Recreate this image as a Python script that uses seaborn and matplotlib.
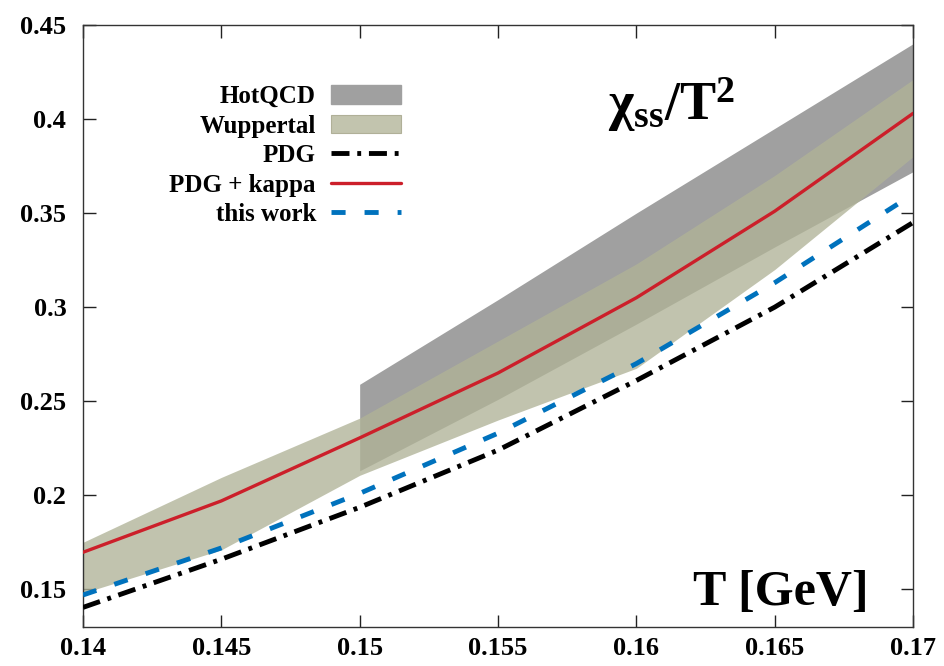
import numpy as np
import pandas as pd
import matplotlib
matplotlib.use("Agg")
import matplotlib.pyplot as plt
import seaborn as sns
from matplotlib.patches import Patch
from matplotlib.lines import Line2D

# ---- data ----
T = [0.14, 0.145, 0.15, 0.155, 0.16, 0.165, 0.17]
pdg = [0.1404, 0.166, 0.1936, 0.224, 0.261, 0.300, 0.345]
pdg_kappa = [0.1697, 0.197, 0.2305, 0.265, 0.305, 0.351, 0.403]
this_work = [0.147, 0.172, 0.201, 0.233, 0.270, 0.313, 0.360]

wupp_T = [0.14, 0.145, 0.15, 0.155, 0.16, 0.165, 0.17]
wupp_lo = [0.148, 0.171, 0.2106, 0.240, 0.2675, 0.320, 0.380]
wupp_hi = [0.175, 0.2095, 0.241, 0.282, 0.323, 0.370, 0.421]

hot_T = [0.15, 0.155, 0.16, 0.165, 0.17]
hot_lo = [0.213, 0.251, 0.291, 0.332, 0.372]
hot_hi = [0.259, 0.304, 0.350, 0.395, 0.440]

xticks = [0.14, 0.145, 0.15, 0.155, 0.16, 0.165, 0.17]
xticklabels = ["0.14", "0.145", "0.15", "0.155", "0.16", "0.165", "0.17"]
yticks = [0.15, 0.2, 0.25, 0.3, 0.35, 0.4, 0.45]
yticklabels = ["0.15", "0.2", "0.25", "0.3", "0.35", "0.4", "0.45"]

# ---- style ----
sns.set_style("ticks")
plt.rcParams["font.family"] = ["Liberation Serif", "DejaVu Serif"]
plt.rcParams["font.weight"] = "bold"
plt.rcParams["text.color"] = "black"
plt.rcParams["mathtext.fontset"] = "custom"
plt.rcParams["mathtext.rm"] = "Liberation Serif"
plt.rcParams["mathtext.bf"] = "Liberation Serif:bold"
plt.rcParams["mathtext.it"] = "Liberation Serif:italic"

fig = plt.figure(figsize=(9.44, 6.66), dpi=100)
ax = fig.add_axes([0.0879, 0.0586, 0.8793, 0.9039])

gray = "#a0a0a0"
olive = (176/255, 179/255, 151/255)
red = "#cc1f2a"
blue = "#0072bd"

ax.fill_between(hot_T, hot_lo, hot_hi, color=gray, lw=0, zorder=1)
ax.fill_between(wupp_T, wupp_lo, wupp_hi, color=olive, alpha=0.78, lw=0, zorder=2)

df = pd.DataFrame({"T": T, "pdg": pdg, "kappa": pdg_kappa, "work": this_work})
sns.lineplot(data=df, x="T", y="pdg", ax=ax, color="black", lw=3.5,
             linestyle=(0, (3.7, 1.6, 0.8, 1.6)), zorder=3)
sns.lineplot(data=df, x="T", y="kappa", ax=ax, color=red, lw=2.4, zorder=4)
sns.lineplot(data=df, x="T", y="work", ax=ax, color=blue, lw=3.5,
             linestyle=(0, (2.9, 3.9)), zorder=5)

ax.set_xlim(0.14, 0.17)
ax.set_ylim(0.13, 0.45)
ax.set_xticks(xticks)
ax.set_xticklabels(xticklabels)
ax.set_yticks(yticks)
ax.set_yticklabels(yticklabels)
ax.set_xlabel("")
ax.set_ylabel("")
ax.tick_params(direction="in", length=9, width=1, top=True, right=True,
               labelsize=19, color="#222222", labelcolor="black")
ax.tick_params(axis="y", pad=12)
ax.tick_params(axis="x", pad=7)
for lab in ax.get_xticklabels() + ax.get_yticklabels():
    lab.set_fontweight("bold")
for s in ax.spines.values():
    s.set_linewidth(1.0)
    s.set_color("#333333")

ax.text(0.946, 0.0365, "T [GeV]", transform=ax.transAxes, ha="right",
        va="baseline", fontsize=36, fontweight="bold", color="black")
ax.text(0.632, 0.842, r"$\mathrm{\chi_{ss}}/\mathbf{T}^{\mathbf{2}}$",
        transform=ax.transAxes, ha="left", va="baseline", fontsize=39, color="black")

handles = [
    Patch(facecolor=gray, edgecolor=gray),
    Patch(facecolor=(194/255, 196/255, 174/255), edgecolor="#b0b098", lw=0.8),
    Line2D([], [], color="black", lw=3.5, linestyle=(0, (3.7, 1.6, 0.8, 1.6))),
    Line2D([], [], color=red, lw=2.4),
    Line2D([], [], color=blue, lw=3.5, linestyle=(0, (2.9, 3.9))),
]
labels = ["HotQCD", "Wuppertal", "PDG", "PDG + kappa", "this work"]
leg = ax.legend(handles, labels, loc="upper right", bbox_to_anchor=(0.383, 0.9),
                frameon=False, markerfirst=False, fontsize=18, handlelength=2.8,
                handletextpad=0.6, labelspacing=0.26, borderpad=0, borderaxespad=0,
                handleheight=0.75)
for t in leg.get_texts():
    t.set_fontweight("bold")
    t.set_color("black")

fig.savefig("out.png", dpi=100)
